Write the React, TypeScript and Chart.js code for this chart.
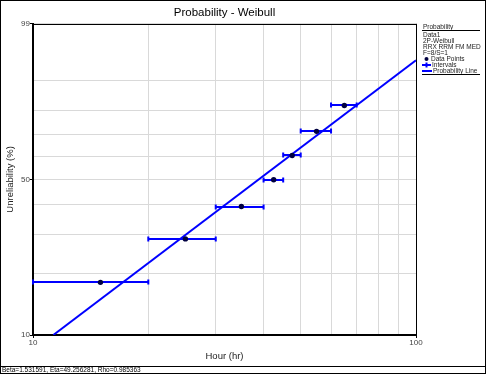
import React, { useEffect, useRef } from 'react';
import { Chart, registerables, Scale } from 'chart.js';

Chart.register(...registerables);

// ---- data ----
const pointHours = [15, 25, 35, 42.5, 47.5, 55, 65];
const pointUnrel = [18.1, 28.7, 39.4, 50.0, 60.6, 71.3, 81.9];
const intervalStart = [10, 20, 30, 40, 45, 50, 60];
const intervalEnd = [20, 30, 40, 45, 50, 60, 70];
const lineHours = [11.3, 100];
const lineUnrel = [10, 94.8];
const xTicks = [10, 20, 30, 40, 50, 60, 70, 80, 90, 100];
const xLabels = [10, 100];
const yTicks = [10, 20, 30, 40, 50, 60, 70, 80, 90, 99];
const yLabels = [10, 50, 99];
const legendTitle = 'Probability';
const legendHeader = ['Data1', '2P-Weibull', 'RRX RRM FM MED', 'F=8/S=1'];
const legendItems = ['Data Points', 'Intervals', 'Probability Line'];
const statusText = 'Beta=1.531591, Eta=49.256281, Rho=0.985363';

const FONT = '"Liberation Sans", Arial, sans-serif';
const BLUE = '#0000ff';
const POINT = '#000040';

const wb = (p: number) => Math.log(-Math.log(1 - p / 100));

class WeibullScale extends Scale {
  static id = 'weibull';
  static defaults = {};
  determineDataLimits() {
    (this as any).min = (this as any).options.min;
    (this as any).max = (this as any).options.max;
  }
  buildTicks() {
    return yTicks.map((v) => ({ value: v }));
  }
  getLabelForValue(v: number) {
    return String(v);
  }
  getPixelForValue(v: number) {
    const p = Math.min(Math.max(v, 0.0001), 99.9999);
    const a = wb((this as any).min);
    const b = wb((this as any).max);
    return (this as any).getPixelForDecimal((wb(p) - a) / (b - a));
  }
  getValueForPixel(px: number) {
    const a = wb((this as any).min);
    const b = wb((this as any).max);
    const w = a + (this as any).getDecimalForPixel(px) * (b - a);
    return 100 * (1 - Math.exp(-Math.exp(w)));
  }
}
Chart.register(WeibullScale as any);

const intervalPlugin = {
  id: 'intervals',
  beforeDatasetsDraw(chart: any) {
    const { ctx, scales } = chart;
    const xs = scales.x;
    const ys = scales.y;
    ctx.save();
    ctx.strokeStyle = BLUE;
    ctx.lineWidth = 2;
    for (let i = 0; i < intervalStart.length; i++) {
      const x1 = xs.getPixelForValue(intervalStart[i]);
      const x2 = xs.getPixelForValue(intervalEnd[i]);
      const y = Math.round(ys.getPixelForValue(pointUnrel[i]));
      ctx.beginPath();
      ctx.moveTo(x1, y);
      ctx.lineTo(x2, y);
      ctx.moveTo(x1, y - 2.5);
      ctx.lineTo(x1, y + 2.5);
      ctx.moveTo(x2, y - 2.5);
      ctx.lineTo(x2, y + 2.5);
      ctx.stroke();
    }
    ctx.restore();
  },
};

const chromePlugin = {
  id: 'chrome',
  afterDraw(chart: any) {
    const { ctx, chartArea } = chart;
    ctx.save();
    // plot frame top/right
    ctx.strokeStyle = '#000';
    ctx.lineWidth = 1;
    ctx.beginPath();
    ctx.moveTo(chartArea.left, Math.round(chartArea.top) + 0.5);
    ctx.lineTo(chartArea.right, Math.round(chartArea.top) + 0.5);
    ctx.moveTo(Math.round(chartArea.right) + 0.5, chartArea.top);
    ctx.lineTo(Math.round(chartArea.right) + 0.5, chartArea.bottom);
    ctx.stroke();

    // legend
    const lx = 423;
    ctx.fillStyle = '#222';
    ctx.textBaseline = 'middle';
    ctx.textAlign = 'left';
    ctx.font = `6.5px ${FONT}`;
    ctx.fillText(legendTitle, lx, 27);
    ctx.beginPath();
    ctx.moveTo(lx - 1, 30.5);
    ctx.lineTo(480, 30.5);
    ctx.stroke();
    legendHeader.forEach((t, i) => ctx.fillText(t, lx, 35 + i * 6));
    const iy = 35 + legendHeader.length * 6;
    // Data Points
    ctx.fillStyle = POINT;
    ctx.beginPath();
    ctx.arc(lx + 3.5, iy, 2, 0, Math.PI * 2);
    ctx.fill();
    ctx.fillStyle = '#222';
    ctx.fillText(legendItems[0], lx + 8, iy);
    // Intervals
    ctx.strokeStyle = BLUE;
    ctx.lineWidth = 2;
    ctx.beginPath();
    ctx.moveTo(lx - 1, iy + 6);
    ctx.lineTo(lx + 8, iy + 6);
    ctx.moveTo(lx + 3.5, iy + 3.5);
    ctx.lineTo(lx + 3.5, iy + 8.5);
    ctx.stroke();
    ctx.fillText(legendItems[1], lx + 9, iy + 6);
    // Probability line
    ctx.beginPath();
    ctx.moveTo(lx - 1, iy + 12);
    ctx.lineTo(lx + 9, iy + 12);
    ctx.stroke();
    ctx.fillText(legendItems[2], lx + 10, iy + 12);
    ctx.strokeStyle = '#000';
    ctx.lineWidth = 1;
    ctx.beginPath();
    ctx.moveTo(lx - 1, iy + 15.5);
    ctx.lineTo(480, iy + 15.5);
    ctx.stroke();

    // status bar
    ctx.beginPath();
    ctx.moveTo(0, 366.5);
    ctx.lineTo(486, 366.5);
    ctx.stroke();
    ctx.fillStyle = '#000';
    ctx.font = `6.5px ${FONT}`;
    ctx.fillText(statusText, 2, 370.5);
    // outer border
    ctx.strokeRect(0.5, 0.5, 485, 373);
    ctx.restore();
  },
};

export default function App() {
  const ref = useRef<HTMLCanvasElement | null>(null);
  useEffect(() => {
    document.body.style.margin = '0';
    if (!ref.current) return;
    const chart = new Chart(ref.current, {
      type: 'scatter',
      data: {
        datasets: [
          {
            label: 'Data Points',
            data: pointHours.map((h, i) => ({ x: h, y: pointUnrel[i] })),
            showLine: false,
            pointRadius: 2.7,
            pointBackgroundColor: POINT,
            pointBorderWidth: 0,
          },
          {
            label: 'Probability Line',
            data: lineHours.map((h, i) => ({ x: h, y: lineUnrel[i] })),
            showLine: true,
            pointRadius: 0,
            borderColor: BLUE,
            borderWidth: 2,
          },
        ],
      },
      options: {
        animation: false,
        responsive: false,
        devicePixelRatio: 1,
        events: [],
        layout: { padding: { left: 0, right: 70, top: 0, bottom: 7 } },
        plugins: {
          legend: { display: false },
          tooltip: { enabled: false },
          title: {
            display: true,
            fullSize: false,
            text: 'Probability - Weibull',
            color: '#000',
            font: { family: FONT, size: 11.5, weight: 'normal' },
            padding: { top: 6, bottom: 4 },
          },
        },
        scales: {
          x: {
            type: 'logarithmic',
            min: 10,
            max: 100,
            afterBuildTicks: (s: any) => {
              s.ticks = xTicks.map((v) => ({ value: v }));
            },
            afterFit: (s: any) => {
              s.height = 32;
            },
            ticks: {
              autoSkip: false,
              maxRotation: 0,
              padding: 0,
              color: '#444',
              font: { family: FONT, size: 8 },
              callback: (v: any) => (xLabels.includes(Number(v)) ? String(v) : ''),
            },
            grid: {
              color: '#d9d9d9',
              lineWidth: 1,
              tickLength: 3,
              tickColor: (c: any) => (c.tick && xLabels.includes(c.tick.value) ? '#000' : 'rgba(0,0,0,0)'),
            },
            border: { color: '#000', width: 2 },
            title: {
              display: true,
              text: 'Hour (hr)',
              color: '#222',
              font: { family: FONT, size: 9.5 },
              padding: { top: 0, bottom: 5 },
            },
          },
          y: {
            type: 'weibull' as any,
            min: 10,
            max: 99,
            afterFit: (s: any) => {
              s.width = 33;
            },
            ticks: {
              autoSkip: false,
              padding: 0,
              color: '#444',
              font: { family: FONT, size: 8 },
              callback: (v: any) => (yLabels.includes(Number(v)) ? String(v) : ''),
            },
            grid: {
              color: '#d9d9d9',
              lineWidth: 1,
              tickLength: 3,
              tickColor: (c: any) => (c.tick && yLabels.includes(c.tick.value) ? '#000' : 'rgba(0,0,0,0)'),
            },
            border: { color: '#000', width: 2 },
            title: {
              display: true,
              text: 'Unreliability (%)',
              color: '#222',
              font: { family: FONT, size: 9.5 },
              padding: { top: 5, bottom: 0 },
            },
          } as any,
        },
      } as any,
      plugins: [intervalPlugin, chromePlugin],
    });
    return () => chart.destroy();
  }, []);
  return <canvas ref={ref} width={486} height={374} style={{ display: 'block' }} />;
}
